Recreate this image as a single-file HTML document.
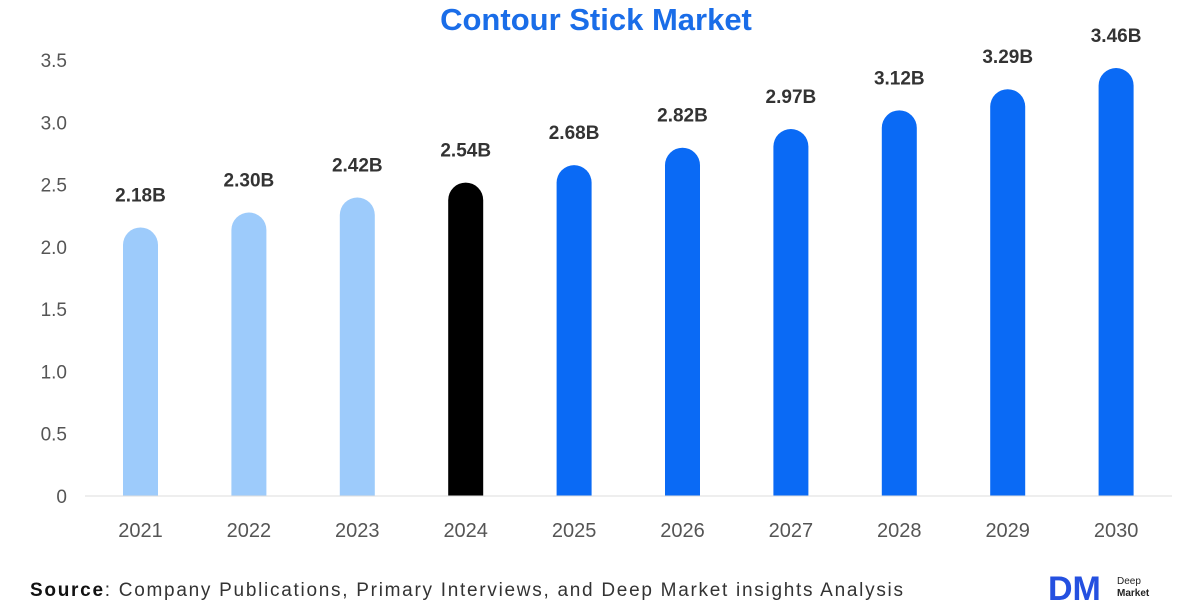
<!DOCTYPE html>
<html><head><meta charset="utf-8"><style>
body{margin:0;background:#fff;width:1200px;height:600px;overflow:hidden;font-family:"Liberation Sans",sans-serif}
</style></head><body>
<svg id="chart" width="1200" height="600" xmlns="http://www.w3.org/2000/svg">
<text x="596" y="30" text-anchor="middle" font-size="31" font-weight="bold" fill="#1a6de8">Contour Stick Market</text>
<g id="yaxis"></g>
<g id="bars"></g>
<line x1="85" x2="1172" y1="496" y2="496" stroke="#ddd" stroke-width="1"/>
<text x="30" y="596" font-size="19" fill="#333" textLength="873" lengthAdjust="spacing"><tspan font-weight="bold" fill="#111">Source</tspan>: Company Publications, Primary Interviews, and Deep Market insights Analysis</text>
<g>
<text x="1048" y="600" font-size="34" font-weight="bold" fill="#2450e0">DM</text>
<text x="1117" y="584" font-size="10" fill="#222">Deep</text>
<text x="1117" y="596" font-size="10" font-weight="bold" fill="#222">Market</text>
</g>
</svg>
<script>
const categories=["2021","2022","2023","2024","2025","2026","2027","2028","2029","2030"];
const values=[2.18,2.30,2.42,2.54,2.68,2.82,2.97,3.12,3.29,3.46];
const valueLabels=["2.18B","2.30B","2.42B","2.54B","2.68B","2.82B","2.97B","3.12B","3.29B","3.46B"];
const yTicks=[0,0.5,1.0,1.5,2.0,2.5,3.0,3.5];
const yTickLabels=["0","0.5","1.0","1.5","2.0","2.5","3.0","3.5"];
const NS="http://www.w3.org/2000/svg";
const y0=496,yPer=(496-60)/3.5;
const yScale=v=>y0-v*yPer;
const xScale=i=>140.5+i*108.4;
const bw=35;
function colorFor(c){const yr=+c;return yr<2024?"#9dcbfb":yr===2024?"#000":"#0a6af5";}
const ya=document.getElementById("yaxis");
yTicks.forEach((t,i)=>{const tx=document.createElementNS(NS,"text");


tx.setAttribute("x",67);tx.setAttribute("y",yScale(t)+7);tx.setAttribute("text-anchor","end");
tx.setAttribute("font-size","19");tx.setAttribute("fill","#555");tx.textContent=yTickLabels[i];ya.appendChild(tx);});
const g=document.getElementById("bars");
categories.forEach((c,i)=>{const x=xScale(i),top=yScale(values[i])+3,r=bw/2;
const p=document.createElementNS(NS,"path");


p.setAttribute("d",`M${x-r},${y0} L${x-r},${top+r} A${r},${r} 0 0 1 ${x+r},${top+r} L${x+r},${y0} Z`);
p.setAttribute("fill",colorFor(c));g.appendChild(p);
const l=document.createElementNS(NS,"text");


l.setAttribute("x",x);l.setAttribute("y",top-26);l.setAttribute("text-anchor","middle");
l.setAttribute("font-size","19");l.setAttribute("font-weight","bold");l.setAttribute("fill","#333");
l.textContent=valueLabels[i];g.appendChild(l);
const xl=document.createElementNS(NS,"text");


xl.setAttribute("x",x);xl.setAttribute("y",537);xl.setAttribute("text-anchor","middle");
xl.setAttribute("font-size","20");xl.setAttribute("fill","#555");xl.textContent=c;g.appendChild(xl);});
</script>
</body></html>
